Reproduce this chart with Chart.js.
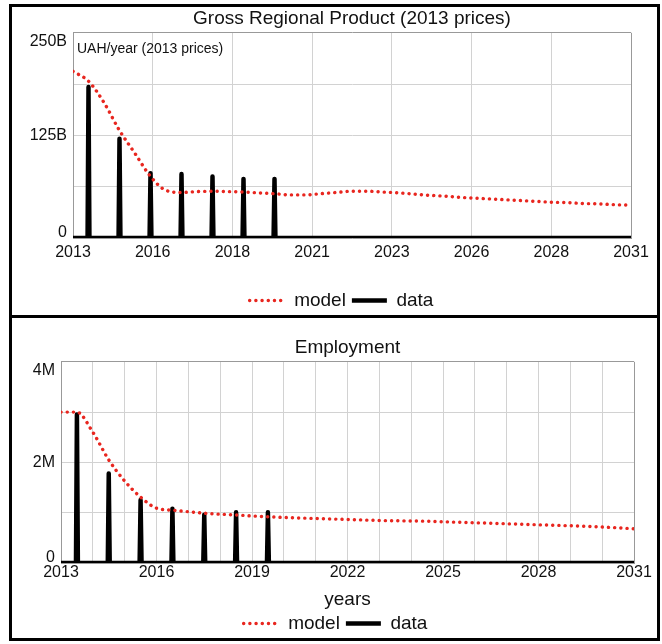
<!DOCTYPE html>
<html>
<head>
<meta charset="utf-8">
<title>Gross Regional Product and Employment</title>
<script src="https://cdn.jsdelivr.net/npm/chart.js@4.4.1/dist/chart.umd.min.js"></script>
<style>
  body { margin: 0; background: #fff; }
  .panel { position: absolute; left: 9px; width: 651px; border: 3px solid #000; box-sizing: border-box; }
  #p1 { top: 4px; height: 314px; }
  #p2 { top: 315px; height: 326px; }
  canvas { position: absolute; }
  #gdp { left: 12px; top: 7px; }
  #emp { left: 12px; top: 318px; }
</style>
</head>
<body>
<div class="panel" id="p1"></div>
<div class="panel" id="p2"></div>
<canvas id="gdp" width="645" height="313"></canvas>
<canvas id="emp" width="645" height="325"></canvas>
<script>
// model time points (half years)
const modelYears = [2013, 2013.5, 2014, 2014.5, 2015, 2015.5, 2016, 2016.5, 2017, 2017.5,
  2018, 2018.5, 2019, 2019.5, 2020, 2020.5, 2021, 2021.5, 2022, 2022.5,
  2023, 2023.5, 2024, 2024.5, 2025, 2025.5, 2026, 2026.5, 2027, 2027.5,
  2028, 2028.5, 2029, 2029.5, 2030, 2030.5, 2031];

// GRP, billion UAH (2013 prices)
const gdpModel = [203, 191, 165, 131, 103, 75, 58, 55.5, 56.5, 57,
  56.5, 56, 55, 54, 52.5, 52.5, 54, 55.5, 57, 57,
  56, 55, 53.5, 52, 51, 49.5, 48.5, 47.5, 46.5, 45.5,
  44.5, 43.5, 43, 42, 41.5, 40.5, 40];

// employment, million people
const empModel = [3.0, 3.0, 2.6, 2.05, 1.63, 1.31, 1.09, 1.05, 1.02, 0.99,
  0.97, 0.955, 0.935, 0.92, 0.905, 0.895, 0.885, 0.875, 0.865, 0.855,
  0.845, 0.84, 0.835, 0.83, 0.82, 0.81, 0.80, 0.79, 0.78, 0.77,
  0.76, 0.75, 0.74, 0.73, 0.715, 0.70, 0.68];

// observed data
const dataYears = [2013.5, 2014.5, 2015.5, 2016.5, 2017.5, 2018.5, 2019.5];
const gdpData = [184, 121, 79, 78, 75, 72, 72];
const empData = [2.95, 1.78, 1.25, 1.08, 0.96, 1.01, 1.01];

// tick labels
const gdpXLabels = ['2013', '2016', '2018', '2021', '2023', '2026', '2028', '2031'];
const gdpYLabels = ['0', '', '125B', '', '250B'];
const empXLabels = ['2013', '', '', '2016', '', '', '2019', '', '', '2022', '', '',
  '2025', '', '', '2028', '', '', '2031'];
const empYLabels = ['0', '', '2M', '', '4M'];

Chart.defaults.font.family = '"Liberation Sans", Arial, Helvetica, sans-serif';
Chart.defaults.color = '#111';
Chart.defaults.animation = false;

const RED = '#e8261f';
const GRID = '#d2d2d2';
const EDGE = '#999';

// data drawn as thin spikes on a zero line, like the simulator does
function spikes(years, values) {
  const w = 0.03;
  const pts = [{ x: modelYears[0], y: 0 }];
  years.forEach((yr, i) => {
    pts.push({ x: yr - w, y: 0 }, { x: yr, y: values[i] }, { x: yr + w, y: 0 });
  });
  pts.push({ x: modelYears[modelYears.length - 1], y: 0 });
  return pts;
}

function series(years, values) {
  return years.map((yr, i) => ({ x: yr, y: values[i] }));
}

// legend samples drawn with each dataset's own line style
function legendItems(chart) {
  const items = Chart.defaults.plugins.legend.labels.generateLabels(chart);
  items.forEach(it => {
    const ds = chart.data.datasets[it.datasetIndex];
    it.lineDash = ds.borderDash || [];
    it.lineCap = ds.borderCapStyle || 'butt';
    it.lineWidth = ds.borderWidth;
    it.strokeStyle = ds.borderColor;
    it.fillStyle = ds.borderColor;
  });
  return items;
}

const unitLabel = {
  id: 'unitLabel',
  afterDraw(chart) {
    const { ctx, chartArea } = chart;
    ctx.save();
    ctx.font = '14px "Liberation Sans", Arial, sans-serif';
    ctx.fillStyle = '#111';
    ctx.textBaseline = 'middle';
    ctx.fillText('UAH/year (2013 prices)', chartArea.left + 4, chartArea.top + 16);
    ctx.restore();
  }
};

function makeChart(id, o) {
  return new Chart(document.getElementById(id), {
    type: 'line',
    data: {
      datasets: [
        {
          label: 'model',
          data: series(modelYears, o.model),
          borderColor: RED,
          borderWidth: 3.4,
          borderDash: [0.1, 6.1],
          borderCapStyle: 'round',
          pointRadius: 0,
          cubicInterpolationMode: 'monotone',
          tension: 0.4
        },
        {
          label: 'data',
          data: spikes(dataYears, o.data),
          borderColor: '#000',
          backgroundColor: '#000',
          borderWidth: 4.5,
          borderJoinStyle: 'round',
          pointRadius: 0,
          tension: 0
        }
      ]
    },
    options: {
      responsive: false,
      events: [],
      layout: { padding: { left: o.padLeft, right: 0, top: 0, bottom: 0 } },
      plugins: {
        title: {
          display: true,
          text: o.title,
          fullSize: false,
          font: { size: 19, weight: 'normal' },
          color: '#111',
          padding: o.titlePad
        },
        legend: {
          position: 'bottom',
          labels: {
            usePointStyle: true,
            pointStyle: 'line',
            pointStyleWidth: 35,
            padding: 6,
            font: { size: 19 },
            color: '#111',
            generateLabels: legendItems
          }
        },
        tooltip: { enabled: false }
      },
      scales: {
        x: {
          type: 'linear',
          min: 2013,
          max: 2031,
          afterFit(s) { s.height = o.xHeight; },
          ticks: {
            count: o.xCount,
            autoSkip: false,
            maxRotation: 0,
            padding: o.xPad,
            font: { size: 16 },
            callback: (v, i) => o.xLabels[i]
          },
          grid: {
            drawTicks: false,
            color: c => (c.tick && c.tick.value === 2031 ? EDGE : GRID)
          },
          border: { color: EDGE },
          title: o.xTitle
        },
        y: {
          min: 0,
          max: o.yMax,
          afterFit(s) { s.width = o.yWidth; },
          ticks: {
            stepSize: o.yMax / 4,
            padding: 6,
            font: c => ({ size: 16, lineHeight: c.index === 0 ? 0.65 : 1.1 }),
            // end labels sit inside the plot, as in the original
            callback: (v, i, t) => (i === 0 ? [o.yLabels[i], '']
              : i === t.length - 1 ? ['', o.yLabels[i]] : o.yLabels[i])
          },
          grid: {
            drawTicks: false,
            color: c => (c.tick && c.tick.value === o.yMax ? EDGE : GRID)
          },
          border: { color: EDGE }
        },
        // empty right-hand axis that keeps room for the last year label
        yr: {
          position: 'right',
          min: 0,
          max: 1,
          afterFit(s) { s.width = o.rightWidth; },
          ticks: { display: false },
          grid: { display: false },
          border: { display: false }
        }
      }
    },
    plugins: o.extra || []
  });
}

makeChart('gdp', {
  title: 'Gross Regional Product (2013 prices)',
  titlePad: { top: 0, bottom: 3 },
  model: gdpModel,
  data: gdpData,
  padLeft: 14,
  yWidth: 47,
  rightWidth: 26,
  yMax: 250,
  yLabels: gdpYLabels,
  xLabels: gdpXLabels,
  xCount: gdpXLabels.length,
  xHeight: 47,
  xPad: 5,
  xTitle: { display: false },
  extra: [unitLabel]
});

makeChart('emp', {
  title: 'Employment',
  titlePad: { top: 18, bottom: 3 },
  model: empModel,
  data: empData,
  padLeft: 2,
  yWidth: 47,
  rightWidth: 23,
  yMax: 4,
  yLabels: empYLabels,
  xLabels: empXLabels,
  xCount: empXLabels.length,
  xHeight: 45,
  xPad: 0,
  xTitle: {
    display: true,
    text: 'years',
    color: '#111',
    font: { size: 19 },
    padding: { top: 0, bottom: -3 }
  }
});
</script>
</body>
</html>
